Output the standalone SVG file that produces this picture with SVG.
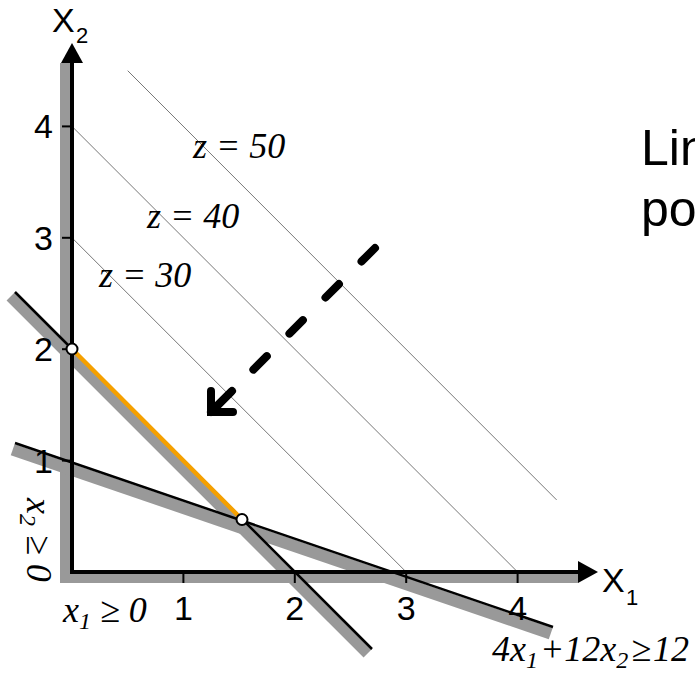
<svg xmlns="http://www.w3.org/2000/svg" width="695" height="675" viewBox="0 0 695 675">
<style>
.band{stroke:#999;stroke-width:12;fill:none}
.bline{stroke:#000;stroke-width:2.5;fill:none}
.iso{stroke:#777;stroke-width:1;fill:none}
.tick{stroke:#000;stroke-width:2}
.num{font-family:"Liberation Sans",Arial,sans-serif;font-size:34px;fill:#000}
.it{font-family:"Liberation Serif","Times New Roman",serif;font-style:italic;font-size:36px;fill:#000}
.big{font-family:"Liberation Sans",Arial,sans-serif;font-size:50px;fill:#000}
.vtx{fill:#fff;stroke:#000;stroke-width:2}
</style>
<rect width="695" height="675" fill="#fff"/>
<g id="bands">
<rect x="60" y="63" width="12" height="520" fill="#999"/>
<rect x="60" y="572" width="518" height="11" fill="#999"/>
<path class="band" d="M10.8,296.2 L367.8,653.2"/>
<path class="band" d="M12.7,449.6 L550.7,633.6"/>
</g>
<g id="isolines">
<path class="iso" d="M72,237.8 L406.2,572"/>
<path class="iso" d="M72,126.4 L517.6,572"/>
<path class="iso" d="M127.7,70.7 L556.6,499.9"/>
</g>
<g id="constraint-lines">
<path class="bline" d="M15,292 L372,649"/>
<path class="bline" d="M15,443 L553,627"/>
<path d="M72,349 L242,519.5" stroke="#F5A000" stroke-width="4.5" fill="none"/>
</g>
<g id="axes">
<path d="M72,63 V572 H578" stroke="#000" stroke-width="4" fill="none"/>
<polygon points="72,43 83,63 61,63" fill="#000"/>
<polygon points="598,572 578,561 578,583" fill="#000"/>
<line class="tick" x1="62" y1="460.6" x2="72" y2="460.6"/>
<line class="tick" x1="62" y1="349.2" x2="72" y2="349.2"/>
<line class="tick" x1="62" y1="237.8" x2="72" y2="237.8"/>
<line class="tick" x1="62" y1="126.4" x2="72" y2="126.4"/>
<line class="tick" x1="183.4" y1="572" x2="183.4" y2="583"/>
<line class="tick" x1="294.8" y1="572" x2="294.8" y2="583"/>
<line class="tick" x1="406.2" y1="572" x2="406.2" y2="583"/>
<line class="tick" x1="517.6" y1="572" x2="517.6" y2="583"/>
<text class="num" x="53" y="138.4" text-anchor="end">4</text>
<text class="num" x="53" y="249.8" text-anchor="end">3</text>
<text class="num" x="53" y="361.2" text-anchor="end">2</text>
<text class="num" x="53" y="472.6" text-anchor="end">1</text>
<text class="num" x="183.4" y="620" text-anchor="middle">1</text>
<text class="num" x="294.8" y="620" text-anchor="middle">2</text>
<text class="num" x="406.2" y="620" text-anchor="middle">3</text>
<text class="num" x="517.6" y="620" text-anchor="middle">4</text>
<text class="num" x="52" y="32">X<tspan x="76" y="43" font-size="22">2</tspan></text>
<text class="num" x="602" y="592">X<tspan x="626" y="605" font-size="22">1</tspan></text>
</g>
<g id="vertices">
<circle class="vtx" cx="72" cy="349" r="5.5"/>
<circle class="vtx" cx="242" cy="519.5" r="5.5"/>
</g>
<g id="direction-arrow">
<path d="M375,248 L217,406" stroke="#000" stroke-width="8" stroke-linecap="round" stroke-dasharray="19 32" fill="none"/>
<path d="M232,391 L211,412" stroke="#000" stroke-width="8" stroke-linecap="round" fill="none"/>
<path d="M211,391 V412 H233" stroke="#000" stroke-width="8" stroke-linecap="round" stroke-linejoin="miter" fill="none"/>
</g>
<g id="labels">
<text class="it" x="193" y="158">z = 50</text>
<text class="it" x="147" y="228">z = 40</text>
<text class="it" x="99" y="287">z = 30</text>
<text class="it" x="63" y="622">x<tspan font-size="24" dy="7">1</tspan><tspan dy="-7"> ≥ 0</tspan></text>
<text class="it" x="492" y="661">4x<tspan font-size="24" dy="7">1</tspan><tspan dy="-7" dx="2">+12x</tspan><tspan font-size="24" dy="7">2</tspan><tspan dy="-7" dx="3">≥</tspan><tspan dx="2">12</tspan></text>
<text class="it" transform="translate(27,498) rotate(90)">x<tspan font-size="24" dy="7">2</tspan><tspan dy="-7"> ≥ 0</tspan></text>
<text class="big" x="641" y="165">Lin</text>
<text class="big" x="641" y="226">po</text>
</g>
</svg>
